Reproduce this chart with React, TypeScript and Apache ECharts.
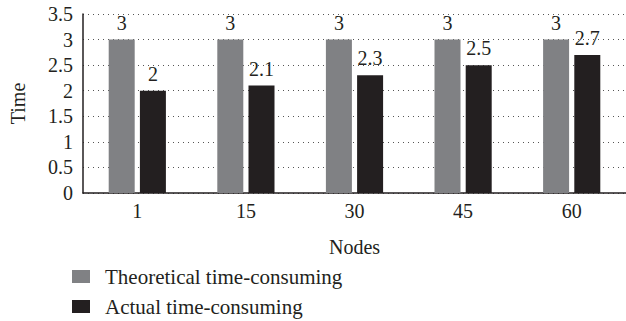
import React, { useEffect, useRef } from "react";
import * as echarts from "echarts";

const categories = ["1", "15", "30", "45", "60"];
const theoretical = [3, 3, 3, 3, 3];
const actual = [2, 2.1, 2.3, 2.5, 2.7];
const yTicks = { min: 0, max: 3.5, interval: 0.5 };
const seriesNames = ["Theoretical time-consuming", "Actual time-consuming"];

const FONT = "Liberation Serif";
const TXT = "#231f20";
const FS = 20;

export default function App() {
  const ref = useRef<HTMLDivElement>(null);
  useEffect(() => {
    document.body.style.margin = "0";
    const chart = echarts.init(ref.current!, undefined, { renderer: "svg" });
    const legendBase = {
      left: 67,
      itemWidth: 18,
      itemHeight: 13,
      icon: "rect",
      textStyle: { fontFamily: FONT, fontSize: 21, color: TXT, padding: [0, 0, 0, 10] },
    };
    chart.setOption({
      animation: false,
      textStyle: { fontFamily: FONT, color: TXT },
      grid: { left: 72, top: 14, width: 560, height: 179 },
      legend: [
        { ...legendBase, top: 261, data: [seriesNames[0]] },
        { ...legendBase, top: 291, data: [seriesNames[1]] },
      ],
      xAxis: {
        type: "category",
        data: categories,
        name: "Nodes",
        nameLocation: "middle",
        nameGap: 44,
        nameTextStyle: { fontFamily: FONT, fontSize: FS, color: TXT },
        axisLine: { lineStyle: { color: "#231f20", width: 1.5 } },
        axisTick: { show: false },
        axisLabel: { fontFamily: FONT, fontSize: FS, color: TXT, margin: 8 },
      },
      yAxis: {
        type: "value",
        min: yTicks.min,
        max: yTicks.max,
        interval: yTicks.interval,
        name: "Time",
        nameLocation: "middle",
        nameGap: 55,
        nameTextStyle: { fontFamily: FONT, fontSize: FS, color: TXT },
        axisLine: { show: true, lineStyle: { color: "#231f20", width: 1.5 } },
        axisTick: { show: false },
        axisLabel: { fontFamily: FONT, fontSize: FS, color: TXT, margin: 10 },
        splitLine: { lineStyle: { color: "#555", type: [1, 4], width: 1 } },
      },
      series: [
        {
          name: seriesNames[0],
          type: "bar",
          data: theoretical,
          barWidth: 26,
          barGap: "20%",
          itemStyle: { color: "#808184" },
          label: { show: true, position: "top", distance: 7, fontFamily: FONT, fontSize: FS, color: TXT },
        },
        {
          name: seriesNames[1],
          type: "bar",
          data: actual,
          barWidth: 26,
          barGap: "20%",
          itemStyle: { color: "#231f20" },
          label: { show: true, position: "top", distance: 7, fontFamily: FONT, fontSize: FS, color: TXT },
        },
      ],
    });
    return () => chart.dispose();
  }, []);
  return <div ref={ref} style={{ width: 626, height: 321 }} />;
}
